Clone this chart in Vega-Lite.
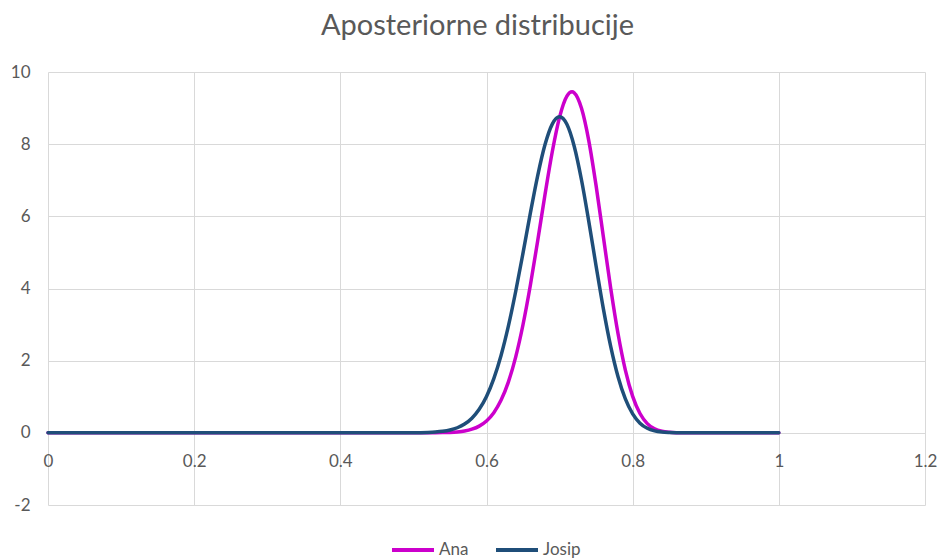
{
  "$schema": "https://vega.github.io/schema/vega-lite/v6.json",
  "width": 877,
  "height": 433,
  "autosize": {"type": "none"},
  "padding": {"left": 48, "top": 72, "right": 13, "bottom": 53},
  "background": "white",
  "title": {
    "text": "Aposteriorne distribucije",
    "font": "Lato",
    "fontSize": 29,
    "fontWeight": "normal",
    "color": "#595959",
    "anchor": "middle",
    "dx": -9,
    "offset": 22
  },
  "config": {
    "view": {"stroke": null},
    "font": "Lato"
  },
  "data": {
    "values": [
      {"x": 0, "y": 0, "s": "Ana"},
      {"x": 0.1, "y": 0, "s": "Ana"},
      {"x": 0.2, "y": 0, "s": "Ana"},
      {"x": 0.3, "y": 0, "s": "Ana"},
      {"x": 0.4, "y": 0, "s": "Ana"},
      {"x": 0.45, "y": 0, "s": "Ana"},
      {"x": 0.5, "y": 0, "s": "Ana"},
      {"x": 0.52, "y": 0.001, "s": "Ana"},
      {"x": 0.53, "y": 0.0025, "s": "Ana"},
      {"x": 0.54, "y": 0.006, "s": "Ana"},
      {"x": 0.55, "y": 0.012, "s": "Ana"},
      {"x": 0.56, "y": 0.026, "s": "Ana"},
      {"x": 0.57, "y": 0.052, "s": "Ana"},
      {"x": 0.58, "y": 0.101, "s": "Ana"},
      {"x": 0.59, "y": 0.186, "s": "Ana"},
      {"x": 0.6, "y": 0.329, "s": "Ana"},
      {"x": 0.61, "y": 0.558, "s": "Ana"},
      {"x": 0.62, "y": 0.908, "s": "Ana"},
      {"x": 0.63, "y": 1.413, "s": "Ana"},
      {"x": 0.64, "y": 2.106, "s": "Ana"},
      {"x": 0.65, "y": 3.002, "s": "Ana"},
      {"x": 0.66, "y": 4.089, "s": "Ana"},
      {"x": 0.67, "y": 5.318, "s": "Ana"},
      {"x": 0.68, "y": 6.596, "s": "Ana"},
      {"x": 0.69, "y": 7.79, "s": "Ana"},
      {"x": 0.7, "y": 8.75, "s": "Ana"},
      {"x": 0.71, "y": 9.33, "s": "Ana"},
      {"x": 0.717, "y": 9.45, "s": "Ana"},
      {"x": 0.72, "y": 9.424, "s": "Ana"},
      {"x": 0.73, "y": 8.995, "s": "Ana"},
      {"x": 0.74, "y": 8.093, "s": "Ana"},
      {"x": 0.75, "y": 6.844, "s": "Ana"},
      {"x": 0.76, "y": 5.419, "s": "Ana"},
      {"x": 0.77, "y": 4.001, "s": "Ana"},
      {"x": 0.78, "y": 2.745, "s": "Ana"},
      {"x": 0.79, "y": 1.738, "s": "Ana"},
      {"x": 0.8, "y": 1.01, "s": "Ana"},
      {"x": 0.81, "y": 0.535, "s": "Ana"},
      {"x": 0.82, "y": 0.256, "s": "Ana"},
      {"x": 0.83, "y": 0.11, "s": "Ana"},
      {"x": 0.84, "y": 0.042, "s": "Ana"},
      {"x": 0.85, "y": 0.014, "s": "Ana"},
      {"x": 0.86, "y": 0.004, "s": "Ana"},
      {"x": 0.87, "y": 0.001, "s": "Ana"},
      {"x": 0.88, "y": 0, "s": "Ana"},
      {"x": 0.9, "y": 0, "s": "Ana"},
      {"x": 0.95, "y": 0, "s": "Ana"},
      {"x": 1, "y": 0, "s": "Ana"},
      {"x": 0, "y": 0, "s": "Josip"},
      {"x": 0.1, "y": 0, "s": "Josip"},
      {"x": 0.2, "y": 0, "s": "Josip"},
      {"x": 0.3, "y": 0, "s": "Josip"},
      {"x": 0.4, "y": 0, "s": "Josip"},
      {"x": 0.45, "y": 0, "s": "Josip"},
      {"x": 0.48, "y": 0.0004, "s": "Josip"},
      {"x": 0.5, "y": 0.002, "s": "Josip"},
      {"x": 0.51, "y": 0.005, "s": "Josip"},
      {"x": 0.52, "y": 0.011, "s": "Josip"},
      {"x": 0.53, "y": 0.022, "s": "Josip"},
      {"x": 0.54, "y": 0.042, "s": "Josip"},
      {"x": 0.55, "y": 0.078, "s": "Josip"},
      {"x": 0.56, "y": 0.141, "s": "Josip"},
      {"x": 0.57, "y": 0.244, "s": "Josip"},
      {"x": 0.58, "y": 0.407, "s": "Josip"},
      {"x": 0.59, "y": 0.654, "s": "Josip"},
      {"x": 0.6, "y": 1.01, "s": "Josip"},
      {"x": 0.61, "y": 1.504, "s": "Josip"},
      {"x": 0.62, "y": 2.152, "s": "Josip"},
      {"x": 0.63, "y": 2.964, "s": "Josip"},
      {"x": 0.64, "y": 3.924, "s": "Josip"},
      {"x": 0.65, "y": 4.988, "s": "Josip"},
      {"x": 0.66, "y": 6.088, "s": "Josip"},
      {"x": 0.67, "y": 7.123, "s": "Josip"},
      {"x": 0.68, "y": 7.983, "s": "Josip"},
      {"x": 0.69, "y": 8.557, "s": "Josip"},
      {"x": 0.7, "y": 8.76, "s": "Josip"},
      {"x": 0.71, "y": 8.552, "s": "Josip"},
      {"x": 0.72, "y": 7.944, "s": "Josip"},
      {"x": 0.73, "y": 7.007, "s": "Josip"},
      {"x": 0.74, "y": 5.854, "s": "Josip"},
      {"x": 0.75, "y": 4.618, "s": "Josip"},
      {"x": 0.76, "y": 3.43, "s": "Josip"},
      {"x": 0.77, "y": 2.389, "s": "Josip"},
      {"x": 0.78, "y": 1.554, "s": "Josip"},
      {"x": 0.79, "y": 0.939, "s": "Josip"},
      {"x": 0.8, "y": 0.524, "s": "Josip"},
      {"x": 0.81, "y": 0.268, "s": "Josip"},
      {"x": 0.82, "y": 0.125, "s": "Josip"},
      {"x": 0.83, "y": 0.053, "s": "Josip"},
      {"x": 0.84, "y": 0.02, "s": "Josip"},
      {"x": 0.85, "y": 0.007, "s": "Josip"},
      {"x": 0.86, "y": 0.002, "s": "Josip"},
      {"x": 0.88, "y": 0, "s": "Josip"},
      {"x": 0.9, "y": 0, "s": "Josip"},
      {"x": 0.95, "y": 0, "s": "Josip"},
      {"x": 1, "y": 0, "s": "Josip"}
    ]
  },
  "mark": {"type": "line", "interpolate": "monotone", "strokeWidth": 3.5, "strokeCap": "round"},
  "encoding": {
    "x": {
      "field": "x",
      "type": "quantitative",
      "scale": {"domain": [0, 1.2], "nice": false, "zero": false},
      "axis": {
        "title": null,
        "values": [0, 0.2, 0.4, 0.6, 0.8, 1, 1.2],
        "format": "~g",
        "grid": true,
        "gridColor": "#d9d9d9",
        "gridWidth": 1,
        "domain": false,
        "ticks": false,
        "labelFlush": false,
        "labelPadding": -52,
        "labelFontSize": 17,
        "labelColor": "#595959",
        "labelFont": "Lato"
      }
    },
    "y": {
      "field": "y",
      "type": "quantitative",
      "scale": {"domain": [-2, 10], "nice": false, "zero": false},
      "axis": {
        "title": null,
        "values": [-2, 0, 2, 4, 6, 8, 10],
        "labelExpr": "datum.value < 0 ? '-' + (-datum.value) : datum.label",
        "grid": true,
        "gridColor": "#d9d9d9",
        "gridWidth": 1,
        "domain": false,
        "ticks": false,
        "labelPadding": 18,
        "labelFontSize": 17,
        "labelColor": "#595959",
        "labelFont": "Lato"
      }
    },
    "color": {
      "field": "s",
      "type": "nominal",
      "scale": {"domain": ["Ana", "Josip"], "range": ["#CC00CC", "#1F4E79"]},
      "legend": {
        "title": null,
        "orient": "none",
        "legendX": 342,
        "legendY": 455,
        "direction": "horizontal",
        "symbolType": "stroke",
        "symbolSize": 1764,
        "symbolStrokeWidth": 4,
        "labelFontSize": 17,
        "labelColor": "#595959",
        "labelFont": "Lato",
        "labelOffset": 3,
        "columnPadding": 19
      }
    }
  }
}
